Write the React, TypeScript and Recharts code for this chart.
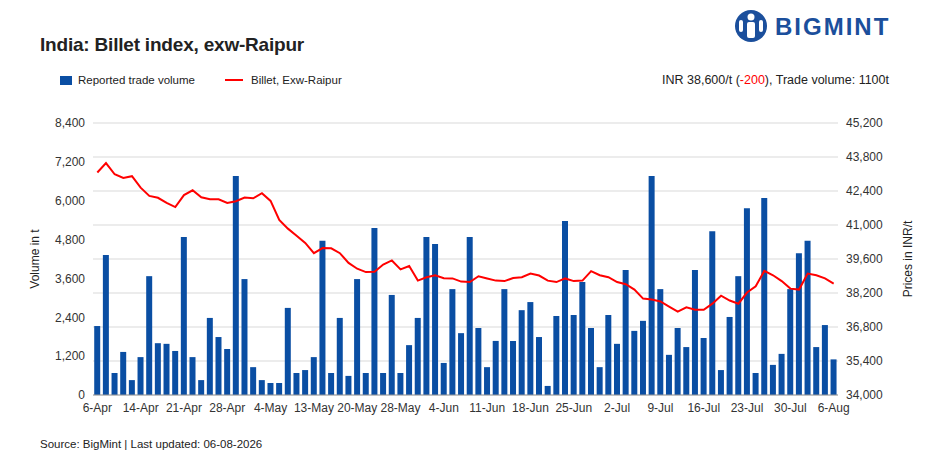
import { ComposedChart, Bar, Line, XAxis, YAxis, CartesianGrid } from 'recharts'

const volume = [
  2130, 4320, 680, 1330, 460, 1170, 3670, 1600, 1580, 1360,
  4880, 1170, 460, 2380, 1790, 1420, 6760, 3580, 860, 460,
  370, 370, 2690, 680, 770, 1170, 4760, 680, 2380, 590,
  3580, 680, 5160, 680, 3090, 680, 1540, 2380, 4880, 4660,
  990, 3270, 1910, 4880, 2070, 860, 1670, 3270, 1670, 2620,
  2870, 1790, 280, 2440, 5370, 2470, 3490, 2070, 860, 2470,
  1580, 3860, 1980, 2290, 6760, 3270, 1240, 2070, 1480, 3860,
  1760, 5060, 770, 2410, 3670, 5770, 680, 6080, 930, 1270,
  3270, 4380, 4760, 1480, 2160, 1100,
]

const price = [
  43160, 43550, 43090, 42940, 43010, 42540, 42200, 42120, 41910, 41740,
  42230, 42430, 42140, 42060, 42060, 41910, 41980, 42130, 42100, 42310,
  41990, 41210, 40850, 40560, 40260, 39840, 40050, 40040, 39840, 39440,
  39200, 39060, 39070, 39370, 39540, 39170, 39310, 38710, 38850, 38930,
  38810, 38800, 38670, 38650, 38890, 38800, 38710, 38690, 38820, 38850,
  39000, 38920, 38710, 38650, 38800, 38690, 38710, 39100, 38930, 38850,
  38650, 38560, 38340, 37970, 37930, 37850, 37640, 37430, 37610, 37510,
  37510, 37760, 38090, 37890, 37760, 38220, 38480, 39110, 38930, 38690,
  38380, 38340, 39000, 38930, 38800, 38590,
]

const tickLabels = [
  '6-Apr', '14-Apr', '21-Apr', '28-Apr', '4-May', '13-May', '20-May', '28-May', '4-Jun',
  '11-Jun', '18-Jun', '25-Jun', '2-Jul', '9-Jul', '16-Jul', '23-Jul', '30-Jul', '6-Aug',
]
const tickIndex = [0, 5, 10, 15, 20, 25, 30, 35, 40, 45, 50, 55, 60, 65, 70, 75, 80, 85]

const volTicks = [0, 1200, 2400, 3600, 4800, 6000, 7200, 8400]
const priceTicks = [34000, 35400, 36800, 38200, 39600, 41000, 42400, 43800, 45200]

const data = volume.map((v, i) => ({ i, volume: v, price: price[i] }))

const font = '"Liberation Sans", Arial, sans-serif'
const tickStyle = { fontSize: 12, fill: '#333', fontFamily: font }
const fmt = (v: number) => v.toLocaleString('en-US')

export default function App() {
  return (
    <div style={{ position: 'absolute', left: 0, top: 0, width: 929, height: 465, background: '#fff', fontFamily: font, color: '#222' }}>
      <div style={{ position: 'absolute', left: 40, top: 34, fontSize: 19, fontWeight: 'bold', letterSpacing: -0.2 }}>
        India: Billet index, exw-Raipur
      </div>

      <svg style={{ position: 'absolute', left: 733, top: 8 }} width={180} height={36}>
        <circle cx={18} cy={18} r={16} fill="#1b4f9c" />
        <circle cx={18} cy={9} r={3.5} fill="#fff" />
        <rect x={14} y={14} width={8} height={16} rx={2} fill="#fff" />
        <rect x={6} y={12} width={4} height={12} rx={2} fill="#fff" />
        <rect x={26} y={12} width={4} height={12} rx={2} fill="#fff" />
        <text x={42} y={27} fontSize={24} fontWeight="bold" fill="#1b4f9c" fontFamily={font} letterSpacing={2}>BIGMINT</text>
      </svg>

      <div style={{ position: 'absolute', left: 60, top: 74, fontSize: 11.5, display: 'flex', alignItems: 'center' }}>
        <span style={{ display: 'inline-block', width: 12, height: 9, background: '#0a4ea3', marginRight: 6 }} />
        Reported trade volume
        <span style={{ display: 'inline-block', width: 18, height: 2, background: '#ff0000', marginLeft: 30, marginRight: 8 }} />
        Billet, Exw-Raipur
      </div>
      <div style={{ position: 'absolute', right: 40, top: 73, fontSize: 12.5 }}>
        INR 38,600/t (<span style={{ color: '#ff0000' }}>-200</span>), Trade volume: 1100t
      </div>

      <div style={{ position: 'absolute', left: 35, top: 259, fontSize: 12, transform: 'translate(-50%,-50%) rotate(-90deg)', whiteSpace: 'nowrap' }}>
        Volume in t
      </div>
      <div style={{ position: 'absolute', left: 908, top: 259, fontSize: 12, transform: 'translate(-50%,-50%) rotate(-90deg)', whiteSpace: 'nowrap' }}>
        Prices in INR/t
      </div>

      <div style={{ position: 'absolute', left: 0, top: 0 }}>
        <ComposedChart width={929} height={465} data={data} margin={{ top: 123, right: 20, left: 20, bottom: 40 }} barCategoryGap="14%">
          <CartesianGrid yAxisId="right" vertical={false} stroke="#d9d9d9" />
          <XAxis
            dataKey="i"
            ticks={tickIndex}
            interval={0}
            tickFormatter={(v: number) => tickLabels[tickIndex.indexOf(v)] ?? ''}
            tick={tickStyle}
            tickLine={false}
            axisLine={{ stroke: '#999' }}
            height={30}
          />
          <YAxis
            yAxisId="left"
            domain={[0, 8400]}
            ticks={volTicks}
            tickFormatter={fmt}
            tick={tickStyle}
            axisLine={false}
            tickLine={false}
            width={73}
          />
          <YAxis
            yAxisId="right"
            orientation="right"
            domain={[34000, 45200]}
            ticks={priceTicks}
            tickFormatter={fmt}
            tick={tickStyle}
            axisLine={false}
            tickLine={false}
            width={71}
          />
          <Bar yAxisId="left" dataKey="volume" fill="#0a4ea3" isAnimationActive={false} />
          <Line yAxisId="right" dataKey="price" stroke="#ff0000" strokeWidth={2} dot={false} type="linear" isAnimationActive={false} />
        </ComposedChart>
      </div>

      <div style={{ position: 'absolute', left: 40, top: 438, fontSize: 11.5 }}>
        Source: BigMint | Last updated: 06-08-2026
      </div>
    </div>
  )
}
